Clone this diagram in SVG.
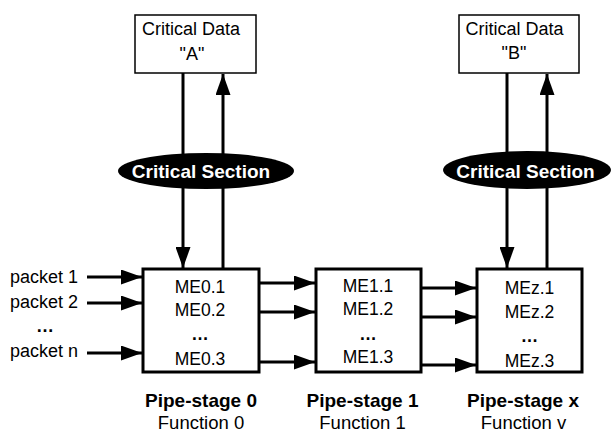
<svg xmlns="http://www.w3.org/2000/svg" width="613" height="433" viewBox="0 0 613 433">
  <style>
    text { font-family: "Liberation Sans", Arial, sans-serif; fill: #000; }
    .t { font-size: 18px; }
    .f { font-size: 18.5px; text-anchor: middle; }
    .me { font-size: 17.5px; text-anchor: middle; }
    .c { text-anchor: middle; }
    .b { font-weight: bold; }
    .ps { font-size: 19px; font-weight: bold; text-anchor: middle; }
    .cs { font-size: 19px; font-weight: bold; fill: #fff; text-anchor: middle; }
    .data { fill: #fff; stroke: #000; stroke-width: 1.5; }
    .stage { fill: #fff; stroke: #000; stroke-width: 3; }
    .wire { stroke: #000; stroke-width: 3; fill: none; }
  </style>
  <defs>
    <marker id="arrow" markerUnits="userSpaceOnUse" markerWidth="21" markerHeight="15" refX="21" refY="7.5" orient="auto">
      <path d="M0,0 L21,7.5 L0,15 Z" fill="#000"/>
    </marker>
  </defs>

  <rect width="613" height="433" fill="#fff"/>

  <g id="connectors">
    <!-- critical data A -->
    <line class="wire" x1="183" y1="73" x2="183" y2="268" marker-end="url(#arrow)"/>
    <line class="wire" x1="223" y1="269" x2="223" y2="74" marker-end="url(#arrow)"/>
    <!-- critical data B -->
    <line class="wire" x1="507" y1="73" x2="507" y2="268" marker-end="url(#arrow)"/>
    <line class="wire" x1="547" y1="269" x2="547" y2="74" marker-end="url(#arrow)"/>
    <!-- packets in -->
    <line class="wire" x1="87" y1="277" x2="142" y2="277" marker-end="url(#arrow)"/>
    <line class="wire" x1="87" y1="303" x2="142" y2="303" marker-end="url(#arrow)"/>
    <line class="wire" x1="87" y1="353" x2="142" y2="353" marker-end="url(#arrow)"/>
    <!-- stage 0 to stage 1 -->
    <line class="wire" x1="259" y1="283" x2="315" y2="283" marker-end="url(#arrow)"/>
    <line class="wire" x1="259" y1="312" x2="315" y2="312" marker-end="url(#arrow)"/>
    <line class="wire" x1="259" y1="362" x2="315" y2="362" marker-end="url(#arrow)"/>
    <!-- stage 1 to stage x -->
    <line class="wire" x1="421" y1="288" x2="476" y2="288" marker-end="url(#arrow)"/>
    <line class="wire" x1="421" y1="317" x2="476" y2="317" marker-end="url(#arrow)"/>
    <line class="wire" x1="421" y1="365" x2="476" y2="365" marker-end="url(#arrow)"/>
  </g>

  <g id="data-a">
    <rect class="data" x="135" y="15" width="121" height="58"/>
    <text class="t c" x="191" y="35">Critical Data</text>
    <text class="t c" x="192" y="60">"A"</text>
  </g>

  <g id="data-b">
    <rect class="data" x="459" y="15" width="120" height="58"/>
    <text class="t c" x="514.5" y="35">Critical Data</text>
    <text class="t c" x="514" y="59">"B"</text>
  </g>

  <g id="section-a">
    <ellipse cx="206" cy="171" rx="88" ry="18" fill="#000"/>
    <text class="cs" x="201" y="178">Critical Section</text>
  </g>

  <g id="section-b">
    <ellipse cx="527" cy="170" rx="84" ry="19" fill="#000"/>
    <text class="cs" x="525.5" y="178">Critical Section</text>
  </g>

  <g id="packets">
    <text class="t" x="10" y="283">packet 1</text>
    <text class="t" x="10" y="308">packet 2</text>
    <text class="t c b" x="45" y="332">…</text>
    <text class="t" x="10" y="357">packet n</text>
  </g>

  <g id="stage-0">
    <rect class="stage" x="143" y="269" width="116" height="103"/>
    <text class="me" x="200" y="293">ME0.1</text>
    <text class="me" x="200" y="316">ME0.2</text>
    <text class="me b" x="200" y="340">…</text>
    <text class="me" x="200" y="365">ME0.3</text>
    <text class="ps" x="201" y="407">Pipe-stage 0</text>
    <text class="f" x="201" y="429">Function 0</text>
  </g>

  <g id="stage-1">
    <rect class="stage" x="316" y="269" width="105" height="103"/>
    <text class="me" x="368" y="292">ME1.1</text>
    <text class="me" x="368" y="315">ME1.2</text>
    <text class="me b" x="368" y="340">…</text>
    <text class="me" x="368" y="363">ME1.3</text>
    <text class="ps" x="362.5" y="407">Pipe-stage 1</text>
    <text class="f" x="362.5" y="429">Function 1</text>
  </g>

  <g id="stage-x">
    <rect class="stage" x="477" y="269" width="105" height="103"/>
    <text class="me" x="529.5" y="294">MEz.1</text>
    <text class="me" x="529.5" y="318">MEz.2</text>
    <text class="me b" x="529.5" y="342">…</text>
    <text class="me" x="529.5" y="367">MEz.3</text>
    <text class="ps" x="523" y="407">Pipe-stage x</text>
    <text class="f" x="523.5" y="429">Function v</text>
  </g>
</svg>
